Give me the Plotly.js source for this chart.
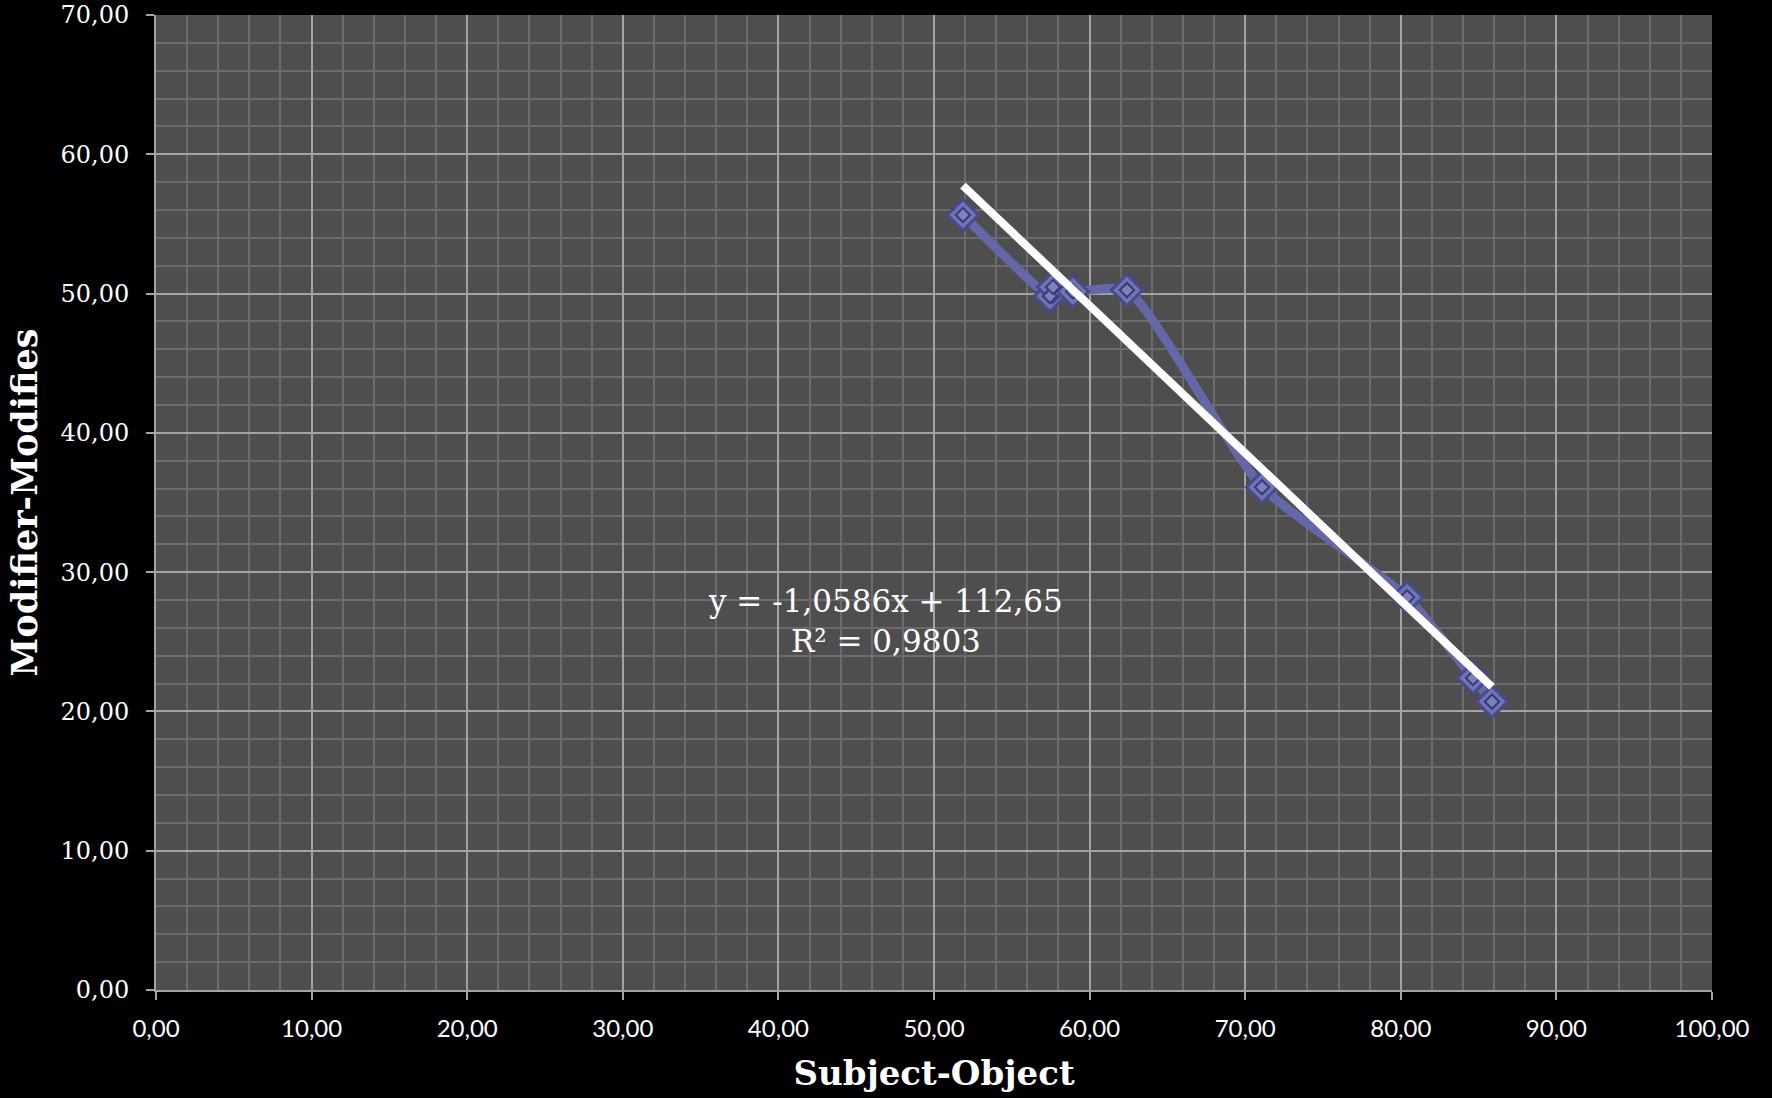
<!DOCTYPE html>
<html>
<head>
<meta charset="utf-8">
<script src="https://cdn.plot.ly/plotly-3.0.1.min.js"></script>
<style>
  html, body { margin: 0; padding: 0; background: #000; }
  #chart { width: 1772px; height: 1098px; }
</style>
</head>
<body>
<div id="chart"></div>
<script>
// Data
const subjectObject = [51.86, 57.45, 57.65, 58.93, 62.40, 71.08, 80.40, 84.64, 85.86];
const modifierModifies = [55.64, 49.82, 50.47, 50.15, 50.25, 36.10, 28.20, 22.40, 20.70];

// Linear trendline as printed on the chart
const trendSlope = -1.0586;
const trendIntercept = 112.65;
const trendR2 = 0.9803;

const xTitle = "Subject-Object";
const yTitle = "Modifier-Modifies";
const equationText = "y = -1,0586x + 112,65<br>R² = 0,9803";

const xMin = Math.min(...subjectObject);
const xMax = Math.max(...subjectObject);
const trendX = [xMin, xMax];
const trendY = trendX.map(v => trendSlope * v + trendIntercept);

const seriesColor = '#6468a8';

const traces = [
  {
    x: subjectObject, y: modifierModifies,
    type: 'scatter', mode: 'lines',
    line: { color: seriesColor, width: 9, shape: 'spline', smoothing: 0.55 },
    hoverinfo: 'skip', showlegend: false
  },
  {
    x: subjectObject, y: modifierModifies,
    type: 'scatter', mode: 'markers',
    marker: { symbol: 'diamond', size: 24, color: '#6f74b3',
              line: { color: '#474b8c', width: 3 } },
    showlegend: false
  },
  {
    x: subjectObject, y: modifierModifies,
    type: 'scatter', mode: 'markers',
    marker: { symbol: 'diamond', size: 11, color: '#7c81be',
              line: { color: '#383b72', width: 2 } },
    hoverinfo: 'skip', showlegend: false
  },
  {
    x: trendX, y: trendY,
    type: 'scatter', mode: 'lines',
    line: { color: '#ffffff', width: 8 },
    hoverinfo: 'skip', showlegend: false
  }
];

const gridMajor = '#a3a3a3';
const gridMinor = '#6b6b6b';

const layout = {
  width: 1772, height: 1098,
  paper_bgcolor: '#000000',
  plot_bgcolor: '#4e4e4e',
  separators: ',.',
  margin: { l: 156, r: 60, t: 15, b: 108 },
  showlegend: false,
  xaxis: {
    range: [0, 100], dtick: 10, tick0: 0,
    tickformat: '.2f',
    showgrid: true, gridcolor: gridMajor, gridwidth: 2,
    minor: { dtick: 2, showgrid: true, gridcolor: gridMinor, gridwidth: 2, ticks: '' },
    zeroline: false,
    showline: true, linecolor: gridMajor, linewidth: 2, mirror: false,
    ticks: 'outside', ticklen: 8, tickwidth: 2, tickcolor: gridMajor,
    ticklabelstandoff: 8,
    tickfont: { family: 'Lato, "Open Sans", sans-serif', size: 24, color: '#ffffff' },
    title: { text: xTitle, standoff: 20,
             font: { family: '"DejaVu Serif", serif', size: 34, color: '#ffffff', weight: 'bold' } },
    automargin: false, fixedrange: true
  },
  yaxis: {
    range: [0, 70], dtick: 10, tick0: 0,
    tickformat: '.2f',
    showgrid: true, gridcolor: gridMajor, gridwidth: 2,
    minor: { dtick: 2, showgrid: true, gridcolor: gridMinor, gridwidth: 2, ticks: '' },
    zeroline: false,
    showline: true, linecolor: gridMajor, linewidth: 2,
    ticks: 'outside', ticklen: 8, tickwidth: 2, tickcolor: gridMajor,
    ticklabelstandoff: 12,
    tickfont: { family: '"DejaVu Serif", serif', size: 24, color: '#ffffff' },
    title: { text: yTitle, standoff: 12,
             font: { family: '"DejaVu Serif", serif', size: 35, color: '#ffffff', weight: 'bold' } },
    automargin: false, fixedrange: true
  },
  annotations: [
    {
      x: 46.9, y: 26.5, xref: 'x', yref: 'y',
      text: equationText, showarrow: false,
      xanchor: 'center', yanchor: 'middle', align: 'center',
      font: { family: '"DejaVu Serif", serif', size: 31, color: '#ffffff' }
    }
  ]
};

Plotly.newPlot('chart', traces, layout, { displayModeBar: false, staticPlot: true });
</script>
</body>
</html>
